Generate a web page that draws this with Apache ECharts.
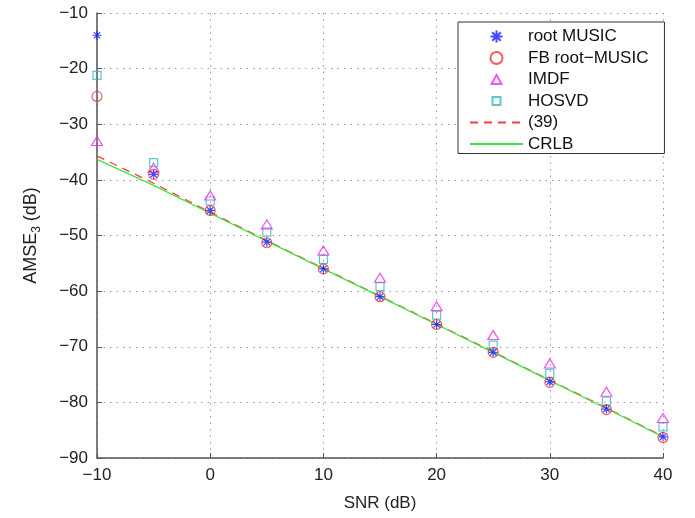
<!DOCTYPE html>
<html>
<head>
<meta charset="utf-8">
<script src="https://cdn.jsdelivr.net/npm/echarts@6/dist/echarts.min.js"></script>
<style>
html,body{margin:0;padding:0;background:#fff;}
#chart{width:695px;height:518px;}
</style>
</head>
<body>
<div id="chart"></div>
<script>
var snr = [-10, -5, 0, 5, 10, 15, 20, 25, 30, 35, 40];
var rootMusic = [-14, -39, -45.5, -51.2, -56, -61, -66, -71, -76.3, -81.2, -86.2];
var fbRootMusic = [-25, -39, -45.5, -51.3, -56, -61, -66, -71, -76.4, -81.3, -86.3];
var imdf = [-33, -37.8, -42.8, -48, -52.7, -57.6, -62.7, -67.9, -73, -78.1, -82.8];
var hosvd = [-21.2, -36.9, -43.8, -49.4, -54.3, -59.2, -64.3, -69.7, -74.8, -79.8, -84.4];
var eq39 = [-35.7, -40.6, -45.8, -50.9, -55.9, -60.9, -65.9, -70.9, -76, -81, -86.1];
var crlb = [-36.3, -41, -46, -51, -56, -61, -66, -71, -76.1, -81.1, -86.2];
var seriesNames = ['root MUSIC', 'FB root\u2212MUSIC', 'IMDF', 'HOSVD', '(39)', 'CRLB'];

function pairs(ys) { return snr.map(function (x, i) { return [x, ys[i]]; }); }
function minus(v) { return String(v).replace('-', '\u2212'); }

var FONT = '"Liberation Sans", Arial, sans-serif';
var star = 'path://M5,0 L5,10 M0,5 L10,5 M1.46,1.46 L8.54,8.54 M1.46,8.54 L8.54,1.46';
var triIcon = 'path://M0,0 M53,12 M21.5,10.5 L26.5,1.5 L31.5,10.5 Z';
var rectIcon = 'path://M0,0 M53,12 M22.5,2 L30.5,2 L30.5,10 L22.5,10 Z';
var axisColor = '#555';

var chart = echarts.init(document.getElementById('chart'), null, {renderer: 'canvas'});
chart.setOption({
  animation: false,
  backgroundColor: '#fff',
  textStyle: {fontFamily: FONT},
  grid: {left: 97, right: 32, top: 13, bottom: 60, containLabel: false},
  legend: {
    orient: 'vertical',
    left: 458, top: 22,
    padding: [6, 16, 1, 11],
    itemWidth: 53, itemHeight: 12, itemGap: 4.5,
    backgroundColor: '#fff',
    borderColor: '#333', borderWidth: 1,
    textStyle: {fontFamily: FONT, fontSize: 17, color: '#111', lineHeight: 17},
    data: [
      {name: seriesNames[0]},
      {name: seriesNames[1]},
      {name: seriesNames[2], icon: triIcon},
      {name: seriesNames[3], icon: rectIcon},
      {name: seriesNames[4], itemStyle: {opacity: 0}},
      {name: seriesNames[5], itemStyle: {opacity: 0}}
    ]
  },
  xAxis: {
    type: 'value', min: -10, max: 40, interval: 10,
    name: 'SNR (dB)', nameLocation: 'middle', nameGap: 37,
    nameTextStyle: {fontFamily: FONT, fontSize: 17, color: '#222'},
    axisLine: {onZero: false, lineStyle: {color: axisColor, width: 1.5}},
    axisTick: {inside: true, length: 5, lineStyle: {color: axisColor}},
    axisLabel: {fontFamily: FONT, fontSize: 17, color: '#222', margin: 9, formatter: minus},
    splitLine: {show: true, lineStyle: {color: '#9a9a9a', type: [1.5, 5], width: 1}}
  },
  yAxis: {
    type: 'value', min: -90, max: -10, interval: 10,
    name: '{a|AMSE}{s|3}{a| (dB)}', nameLocation: 'middle', nameGap: 57,
    nameTextStyle: {
      fontFamily: FONT, fontSize: 18, color: '#222',
      rich: {
        a: {fontFamily: FONT, fontSize: 18, color: '#222', lineHeight: 24, verticalAlign: 'bottom'},
        s: {fontFamily: FONT, fontSize: 12, color: '#222', lineHeight: 24, verticalAlign: 'bottom', padding: [0, 0, -3, 0]}
      }
    },
    axisLine: {onZero: false, lineStyle: {color: axisColor, width: 1.5}},
    axisTick: {inside: true, length: 5, lineStyle: {color: axisColor}},
    axisLabel: {fontFamily: FONT, fontSize: 17, color: '#222', margin: 9, formatter: minus},
    splitLine: {show: true, lineStyle: {color: '#9a9a9a', type: [1.5, 5], width: 1}}
  },
  series: [
    {
      name: seriesNames[4], type: 'line', data: pairs(eq39), symbol: 'none', z: 2,
      lineStyle: {color: '#ff3b3b', width: 1.3, type: [8, 6]},
      itemStyle: {color: '#ff3b3b'}
    },
    {
      name: seriesNames[5], type: 'line', data: pairs(crlb), symbol: 'none', z: 2,
      lineStyle: {color: '#3fe33f', width: 1.3},
      itemStyle: {color: '#3fe33f'}
    },
    {
      name: seriesNames[3], type: 'scatter', data: pairs(hosvd), symbol: 'rect', symbolSize: 8, z: 3,
      itemStyle: {color: 'rgba(0,0,0,0)', borderColor: '#2fbcbc', borderWidth: 1.2}
    },
    {
      name: seriesNames[2], type: 'scatter', data: pairs(imdf), symbol: 'triangle', symbolSize: [11, 9], z: 3,
      itemStyle: {color: 'rgba(0,0,0,0)', borderColor: '#ee2bee', borderWidth: 1.2}
    },
    {
      name: seriesNames[1], type: 'scatter', data: pairs(fbRootMusic), symbol: 'circle', symbolSize: 10, z: 3,
      itemStyle: {color: 'rgba(0,0,0,0)', borderColor: '#ee3535', borderWidth: 1.2}
    },
    {
      name: seriesNames[0], type: 'scatter', data: pairs(rootMusic), symbol: star, symbolSize: 9, z: 4,
      itemStyle: {color: 'rgba(0,0,0,0)', borderColor: '#1a1aff', borderWidth: 1.2}
    }
  ]
});
</script>
</body>
</html>
